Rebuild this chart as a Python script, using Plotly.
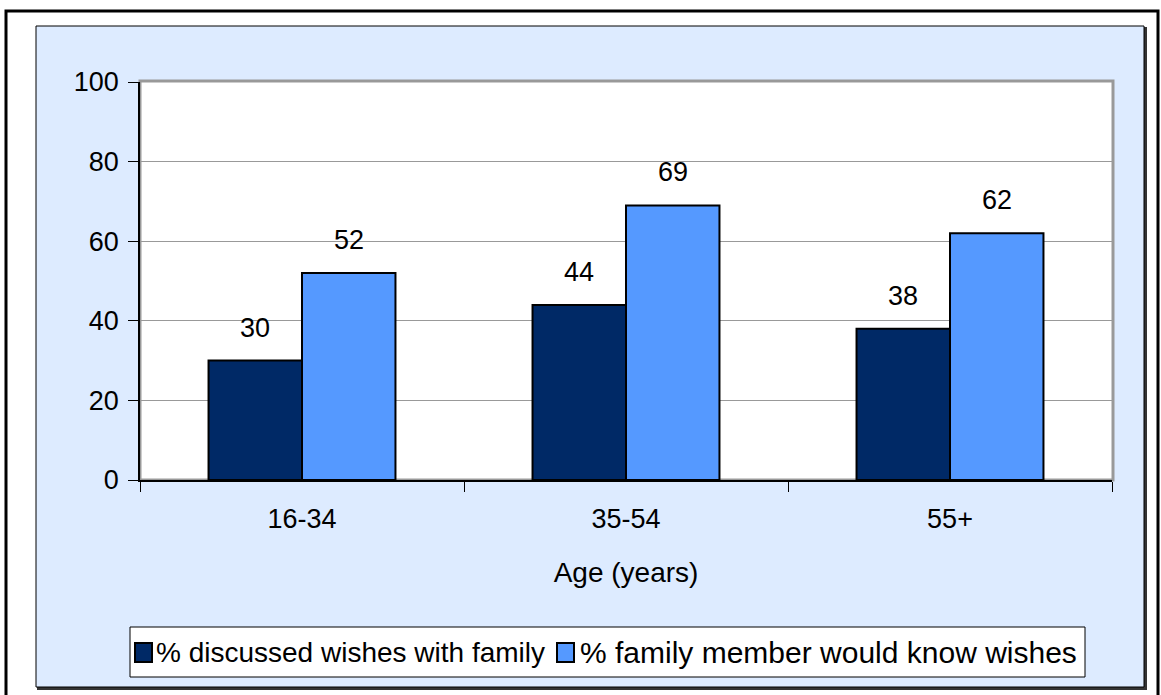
import plotly.graph_objects as go

# Survey results by age group
age_groups = ["16-34", "35-54", "55+"]
discussed = [30, 44, 38]
would_know = [52, 69, 62]
series_names = ["% discussed wishes with family", "% family member would know wishes"]
y_ticks = [0, 20, 40, 60, 80, 100]

W, H = 1161, 695
FONT = "Liberation Sans, Arial, sans-serif"
DARK = "#002966"
LIGHT = "#5599FF"
PANEL = "#DDEBFF"
colors = [DARK, LIGHT]

# plot area in pixels
PX0, PX1 = 140, 1112
PY_TOP, PY_BOT = 82, 480


def px(x):
    return x / W


def py(y):
    return 1 - y / H


fig = go.Figure()
for name, vals, col in zip(series_names, (discussed, would_know), colors):
    fig.add_trace(go.Bar(x=age_groups, y=vals, name=name, showlegend=False,
                         marker=dict(color=col, line=dict(color="black", width=2))))

BARGAP = 0.423
half = (1 - BARGAP) / 4
for i, cat in enumerate(age_groups):
    for off, vals in ((-half, discussed), (half, would_know)):
        fig.add_annotation(x=i + off, y=vals[i], xref="x", yref="y",
                           text=str(vals[i]), showarrow=False, yshift=33,
                           font=dict(family=FONT, size=27, color="black"))

shapes = [
    # outer frame
    dict(type="rect", xref="paper", yref="paper", x0=px(6), x1=px(1158), y0=py(705), y1=py(11),
         line=dict(color="black", width=3), fillcolor="white", layer="below"),
    # panel shadow
    dict(type="rect", xref="paper", yref="paper", x0=px(38), x1=px(1146), y0=py(689), y1=py(28),
         line=dict(color="#333333", width=2), fillcolor="#333333", layer="below"),
    # panel
    dict(type="rect", xref="paper", yref="paper", x0=px(36), x1=px(1144), y0=py(687), y1=py(26),
         line=dict(color="black", width=1), fillcolor=PANEL, layer="below"),
    # plot area background with grey frame
    dict(type="rect", xref="paper", yref="paper", x0=px(PX0), x1=px(PX1 + 1), y0=py(PY_BOT), y1=py(PY_TOP - 1),
         line=dict(color="#999999", width=3), fillcolor="white", layer="below"),
    # legend box
    dict(type="rect", xref="paper", yref="paper", x0=px(130), x1=px(1085), y0=py(677), y1=py(627),
         line=dict(color="black", width=1), fillcolor="white", layer="below"),
]

# legend entries: swatch + label
legend_items = [(135, 154, 28), (557, 578, 30)]
for (sx, tx, fs), name, col in zip(legend_items, series_names, colors):
    shapes.append(dict(type="rect", xref="paper", yref="paper",
                       x0=px(sx), x1=px(sx + 17), y0=py(662), y1=py(643),
                       line=dict(color="black", width=2), fillcolor=col))
    fig.add_annotation(x=px(tx), y=py(652), xref="paper", yref="paper",
                       xanchor="left", yanchor="middle", showarrow=False,
                       text=name, font=dict(family=FONT, size=fs, color="black"))

fig.update_layout(
    width=W, height=H,
    margin=dict(l=0, r=0, t=0, b=0, autoexpand=False),
    paper_bgcolor="white",
    plot_bgcolor="rgba(0,0,0,0)",
    barmode="group",
    bargap=BARGAP,
    bargroupgap=0,
    font=dict(family=FONT, size=27, color="black"),
    shapes=shapes,
    showlegend=False,
    xaxis=dict(domain=[px(PX0), px(PX1)], showline=True, linecolor="black", linewidth=1.5,
               ticks="outside", ticklen=10, tickcolor="black", tickson="boundaries",
               ticklabelstandoff=14, showgrid=False, automargin=False,
               title=dict(text="Age (years)", font=dict(family=FONT, size=28), standoff=29)),
    yaxis=dict(domain=[py(PY_BOT), py(PY_TOP)], range=[0, 100], tickvals=y_ticks,
               showline=True, linecolor="black", linewidth=1.5, automargin=False,
               ticks="outside", ticklen=10, tickcolor="black", ticklabelstandoff=4,
               showgrid=True, gridcolor="#999999", gridwidth=1, zeroline=False),
)

fig.write_html("out.html")
